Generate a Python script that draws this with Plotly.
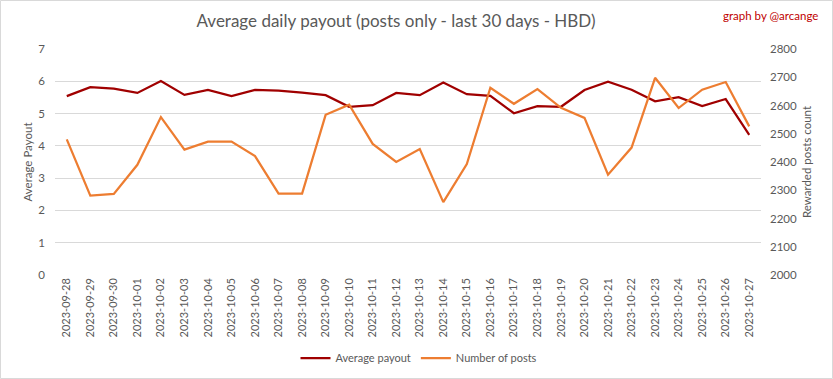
import plotly.graph_objects as go

dates = ["2023-09-28", "2023-09-29", "2023-09-30", "2023-10-01", "2023-10-02", "2023-10-03",
         "2023-10-04", "2023-10-05", "2023-10-06", "2023-10-07", "2023-10-08", "2023-10-09",
         "2023-10-10", "2023-10-11", "2023-10-12", "2023-10-13", "2023-10-14", "2023-10-15",
         "2023-10-16", "2023-10-17", "2023-10-18", "2023-10-19", "2023-10-20", "2023-10-21",
         "2023-10-22", "2023-10-23", "2023-10-24", "2023-10-25", "2023-10-26", "2023-10-27"]

avg_payout = [5.54, 5.82, 5.77, 5.64, 6.01, 5.58, 5.73, 5.54, 5.73, 5.71,
              5.65, 5.57, 5.21, 5.26, 5.64, 5.57, 5.96, 5.60, 5.55, 5.01,
              5.23, 5.21, 5.73, 5.99, 5.74, 5.38, 5.51, 5.23, 5.45, 4.34]

num_posts = [2480, 2281, 2287, 2390, 2559, 2444, 2472, 2472, 2421, 2288,
             2288, 2567, 2603, 2464, 2400, 2446, 2258, 2393, 2663, 2606,
             2658, 2592, 2556, 2355, 2451, 2698, 2591, 2656, 2683, 2526]

left_ticks = [0, 1, 2, 3, 4, 5, 6, 7]
right_ticks = [2000, 2100, 2200, 2300, 2400, 2500, 2600, 2700, 2800]

FONT = "Lato, sans-serif"
GRAY = "#595959"

W, H = 833, 379
ML, MR, MT, MB = 55, 72, 49, 104
PW, PH = W - ML - MR, H - MT - MB

fig = go.Figure()
fig.add_trace(go.Scatter(x=dates, y=avg_payout, name="Average payout", mode="lines",
                         line=dict(color="#A00000", width=2.25), yaxis="y"))
fig.add_trace(go.Scatter(x=dates, y=num_posts, name="Number of posts", mode="lines",
                         line=dict(color="#ED7D31", width=2.25), yaxis="y2"))

fig.update_layout(
    width=W, height=H,
    margin=dict(l=ML, r=MR, t=MT, b=MB, autoexpand=False),
    paper_bgcolor="white", plot_bgcolor="white",
    font=dict(family=FONT, color=GRAY, size=11),
    title=dict(text="Average daily payout (posts only - last 30 days - HBD)",
               x=396 / W, xanchor="center", y=1 - 21 / H, yanchor="middle",
               font=dict(size=17, color=GRAY, family=FONT)),
    xaxis=dict(type="category", range=[-0.5, len(dates) - 0.5], tickangle=-90,
               showgrid=False, showline=False, ticks="", tickfont=dict(size=11, color=GRAY),
               zeroline=False, automargin=False),
    yaxis=dict(range=[0, 7], tickvals=left_ticks, showgrid=True, gridcolor="#d9d9d9",
               gridwidth=1, zeroline=False, showline=False, ticks="", automargin=False,
               ticklabelstandoff=9,
               title=dict(text="Average Payout", font=dict(size=11.5, color=GRAY), standoff=3),
               tickfont=dict(size=11.5, color=GRAY)),
    yaxis2=dict(range=[2000, 2800], tickvals=right_ticks, overlaying="y", side="right",
                showgrid=False, zeroline=False, showline=False, ticks="", automargin=False,
                ticklabelstandoff=8,
                title=dict(text="Rewarded posts count", font=dict(size=11.5, color=GRAY), standoff=6),
                tickfont=dict(size=11.5, color=GRAY)),
    legend=dict(orientation="h", x=419 / W, xanchor="center", xref="container",
                y=1 - 358 / H, yanchor="middle", yref="container",
                font=dict(size=11, color=GRAY), bgcolor="rgba(0,0,0,0)"),
    showlegend=True,
)

fig.add_annotation(text="graph by @arcange", xref="paper", yref="paper",
                   x=(820 - ML) / PW, xanchor="right", y=1 + (MT - 15) / PH, yanchor="middle",
                   showarrow=False, font=dict(size=11.5, color="#C00000", family=FONT))

fig.add_shape(type="rect", xref="paper", yref="paper",
              x0=(0.5 - ML) / PW, x1=(W - 0.5 - ML) / PW,
              y0=-(MB - 0.5) / PH, y1=1 + (MT - 0.5) / PH,
              line=dict(color="#d9d9d9", width=1), layer="below")

fig.write_html("out.html", config={"displayModeBar": False},
               post_script="document.body.style.margin='0';document.body.style.padding='0';")
